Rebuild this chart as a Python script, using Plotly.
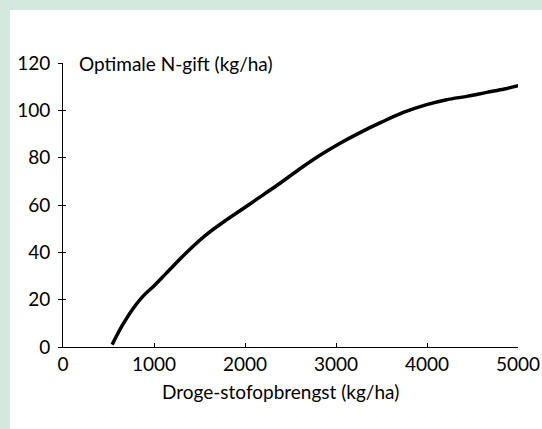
import plotly.graph_objects as go

# droge-stofopbrengst (kg/ha) vs optimale N-gift (kg/ha)
opbrengst = [540, 650, 773, 880, 993, 1130, 1286, 1430, 1579, 1800, 2018, 2200,
             2385, 2600, 2824, 3040, 3264, 3500, 3740, 3996, 4216, 4450, 4656, 4850, 5025]
n_gift = [1.0, 9.0, 16.4, 21.5, 25.6, 31.0, 37.2, 42.6, 47.6, 53.8, 59.5, 64.3,
          69.2, 75.2, 81.0, 86.0, 90.6, 95.0, 99.1, 102.4, 104.5, 106.0, 107.6, 109.0, 110.6]

x_ticks = [0, 1000, 2000, 3000, 4000, 5000]
y_ticks = [0, 20, 40, 60, 80, 100, 120]

GREEN = "#d4e8df"
FONT = "Lato"

fig = go.Figure(go.Scatter(
    x=opbrengst, y=n_gift, mode="lines",
    line=dict(color="black", width=3.5, shape="spline"),
    hoverinfo="skip", showlegend=False,
))

# invisible trace on second y axis so tick marks cross the axis line
fig.add_trace(go.Scatter(x=[0], y=[0], yaxis="y2", mode="markers",
                         marker=dict(opacity=0), hoverinfo="skip", showlegend=False))

fig.update_layout(
    width=542, height=429,
    margin=dict(l=63, r=24, t=63, b=82),
    paper_bgcolor=GREEN,
    plot_bgcolor="white",
    font=dict(family=FONT, size=19, color="black"),
    xaxis=dict(range=[0, 5000], tickvals=x_ticks, ticks="inside", ticklen=4,
               tickcolor="black", showline=True, linecolor="black", linewidth=1,
               showgrid=False, zeroline=False, automargin=False),
    yaxis=dict(range=[0, 120], tickvals=y_ticks, ticks="outside", ticklen=4,
               tickcolor="black", showline=True, linecolor="black", linewidth=1,
               showgrid=False, zeroline=False, ticklabelstandoff=4, automargin=False),
    yaxis2=dict(range=[0, 120], tickvals=y_ticks, ticks="inside", ticklen=3,
                tickcolor="black", showticklabels=False, overlaying="y",
                side="left", showgrid=False, zeroline=False, showline=False,
                automargin=False),
    shapes=[dict(type="rect", xref="paper", yref="paper", layer="below",
                 x0=-0.1165, x1=1.1, y0=-0.35, y1=1.1866,
                 fillcolor="white", line=dict(width=0))],
    annotations=[
        dict(text="Optimale N-gift (kg/ha)", xref="paper", yref="y",
             x=0.031, y=120, xanchor="left", yanchor="middle", showarrow=False),
        dict(text="Droge-stofopbrengst (kg/ha)", xref="paper", yref="paper",
             x=0.478, y=-0.158, xanchor="center", yanchor="middle", showarrow=False),
    ],
)

fig.write_html("out.html", config={"displayModeBar": False},
               post_script="document.body.style.margin='0';")
